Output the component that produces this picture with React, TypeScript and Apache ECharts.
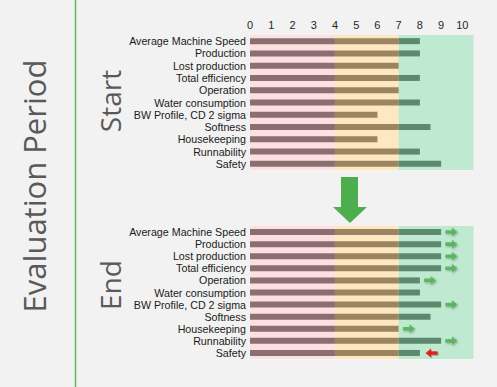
import React, { useEffect, useRef } from "react";
import * as echarts from "echarts";

const categories = [
  "Average Machine Speed",
  "Production",
  "Lost production",
  "Total efficiency",
  "Operation",
  "Water consumption",
  "BW Profile, CD 2 sigma",
  "Softness",
  "Housekeeping",
  "Runnability",
  "Safety",
];
const startValues = [8, 8, 7, 8, 7, 8, 6, 8.5, 6, 8, 9];
const endValues = [9, 9, 9, 9, 8, 8, 9, 8.5, 7, 9, 8];
const bandLimits = [0, 4, 7, 10.5];
const bandColors = ["#fde1e2", "#fee7c1", "#bfe9d1"];
const barColors = ["#8a6e70", "#9b8561", "#5d8a6f"];

function segments(vals: number[]) {
  return [0, 1, 2].map((i) =>
    vals.map((v) => {
      const lo = bandLimits[i];
      const hi = i === 2 ? Infinity : bandLimits[i + 1];
      return Math.max(0, Math.min(v, hi) - lo);
    })
  );
}

export default function App() {
  const ref = useRef<HTMLDivElement>(null);
  useEffect(() => {
    if (!ref.current) return;
    const chart = echarts.init(ref.current, null, { renderer: "svg" });
    const font = "'Liberation Sans', Arial, sans-serif";

    const markArea = {
      silent: true,
      itemStyle: { opacity: 1 },
      data: [0, 1, 2].map((i) => [
        { xAxis: bandLimits[i], itemStyle: { color: bandColors[i] } },
        { xAxis: bandLimits[i + 1] },
      ]),
    };

    const barSeries = (vals: number[], gi: number) =>
      segments(vals).map((seg, i) => ({
        type: "bar",
        xAxisIndex: gi,
        yAxisIndex: gi,
        stack: "s" + gi,
        data: seg,
        barWidth: 6,
        itemStyle: { color: barColors[i] },
        markArea: i === 0 ? markArea : undefined,
        z: 3,
      }));

    const upArrows: any[] = [];
    const downArrows: any[] = [];
    categories.forEach((c, i) => {
      if (endValues[i] > startValues[i]) upArrows.push([endValues[i] + 0.48, c]);
      else if (endValues[i] < startValues[i]) downArrows.push([endValues[i] + 0.55, c]);
    });
    const arrowPath = "path://M0,3L6,3L6,0L11,5L6,10L6,7L0,7Z";

    const xAxisBase = {
      type: "value",
      min: 0,
      max: 10.5,
      interval: 1,
      splitLine: { show: true, lineStyle: { color: "rgba(0,0,0,0.05)" } },
      axisLine: { show: false },
      axisTick: { show: false },
    };
    const yAxisBase = {
      type: "category",
      data: categories,
      inverse: true,
      axisLine: { show: false },
      axisTick: { show: false },
      splitLine: { show: true, interval: 0, lineStyle: { color: "rgba(255,255,255,0.35)" } },
      axisLabel: { color: "#1a1a1a", fontSize: 10.7, fontFamily: font, margin: 4, interval: 0 },
    };

    chart.setOption({
      animation: false,
      backgroundColor: "#f2f2f2",
      grid: [
        { left: 250, top: 35, width: 223, height: 135 },
        { left: 250, top: 226, width: 223, height: 133 },
      ],
      xAxis: [
        {
          ...xAxisBase,
          gridIndex: 0,
          position: "top",
          axisLabel: {
            color: "#262626",
            fontSize: 11,
            fontFamily: font,
            margin: 5,
            formatter: (v: number) => (Number.isInteger(v) ? String(v) : ""),
          },
        },
        { ...xAxisBase, gridIndex: 1, axisLabel: { show: false } },
      ],
      yAxis: [
        { ...yAxisBase, gridIndex: 0 },
        { ...yAxisBase, gridIndex: 1 },
      ],
      series: [
        ...barSeries(startValues, 0),
        ...barSeries(endValues, 1),
        {
          type: "scatter",
          xAxisIndex: 1,
          yAxisIndex: 1,
          data: upArrows,
          symbol: arrowPath,
          symbolSize: [12, 9],
          itemStyle: {
            color: "#4caf50",
            shadowColor: "rgba(0,0,0,0.35)",
            shadowBlur: 2,
            shadowOffsetX: 1,
            shadowOffsetY: 1,
          },
          z: 5,
        },
        {
          type: "scatter",
          xAxisIndex: 1,
          yAxisIndex: 1,
          data: downArrows,
          symbol: arrowPath,
          symbolRotate: 180,
          symbolSize: [12, 9],
          itemStyle: {
            color: "#e60000",
            shadowColor: "rgba(0,0,0,0.35)",
            shadowBlur: 2,
            shadowOffsetX: 1,
            shadowOffsetY: 1,
          },
          z: 5,
        },
      ],
      graphic: [
        {
          type: "line",
          shape: { x1: 75.5, y1: 0, x2: 75.5, y2: 387 },
          style: { stroke: "#5cb85c", lineWidth: 1.5 },
        },
        {
          type: "text",
          x: 34,
          y: 186,
          rotation: Math.PI / 2,
          style: {
            text: "Evaluation Period",
            fill: "#595959",
            font: "31px 'Open Sans', sans-serif",
            align: "center",
            verticalAlign: "middle",
          },
        },
        {
          type: "text",
          x: 110,
          y: 101,
          rotation: Math.PI / 2,
          style: {
            text: "Start",
            fill: "#595959",
            font: "28px 'Open Sans', sans-serif",
            align: "center",
            verticalAlign: "middle",
          },
        },
        {
          type: "text",
          x: 110,
          y: 285,
          rotation: Math.PI / 2,
          style: {
            text: "End",
            fill: "#595959",
            font: "28px 'Open Sans', sans-serif",
            align: "center",
            verticalAlign: "middle",
          },
        },
        {
          type: "polygon",
          shape: {
            points: [
              [341, 177],
              [358, 177],
              [358, 207],
              [367, 207],
              [350, 223],
              [333, 207],
              [341, 207],
            ],
          },
          style: { fill: "#4cae4c" },
        },
      ],
    });
    return () => chart.dispose();
  }, []);
  return (
    <div
      ref={ref}
      style={{ position: "fixed", left: 0, top: 0, width: 497, height: 387 }}
    />
  );
}
